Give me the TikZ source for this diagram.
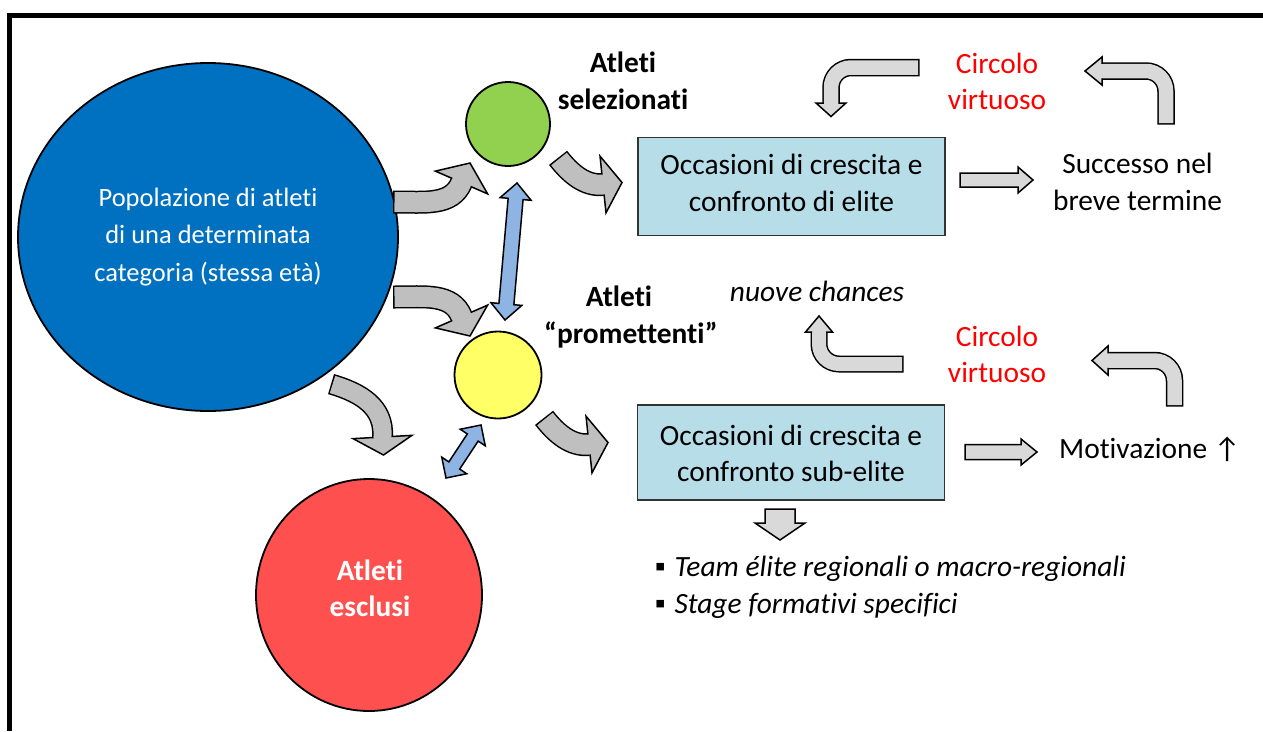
\documentclass[tikz,border=0pt]{standalone}
\usepackage{fontspec}
\setmainfont{Carlito}[Ligatures=NoCommon]
\usetikzlibrary{calc,shapes.geometric}

\definecolor{popblue}{HTML}{0070C0}
\definecolor{selgreen}{HTML}{92D050}
\definecolor{promyellow}{HTML}{FFFF66}
\definecolor{exred}{HTML}{FF5050}
\definecolor{boxblue}{HTML}{B7DEE8}
\definecolor{flowgray}{HTML}{BFBFBF}
\definecolor{loopgray}{HTML}{D9D9D9}
\definecolor{linkblue}{HTML}{8EB4E3}
\definecolor{loopred}{HTML}{FF0000}

% block arrow along a path: black rim, fill stroke, then the head
% #1 fill, #2 shaft width, #3 head half width, #4 tail, #5 point the tail heads to,
% #6 path segments from the tail to the head base, #7 head base, #8 tip
\newcommand{\shaftarrow}[8]{%
  \pgfmathsetmacro{\rimw}{#2+3}%
  \pgfmathsetmacro{\halfw}{#2/2}%
  \draw[black, line width=\rimw pt] ($#4!-1.5pt!#5$) -- #4 #6 #7;
  \draw[#1, line width=#2 pt] #4 #6 #7;
  \coordinate (sbk) at ($#7!-1.2pt!#8$);
  \fill[#1] #8 -- ($#7!#3 pt!90:#8$) -- ($#7!\halfw pt!90:#8$) -- ($(sbk)!\halfw pt!90:#8$)
    -- ($(sbk)!\halfw pt!-90:#8$) -- ($#7!\halfw pt!-90:#8$) -- ($#7!#3 pt!-90:#8$) -- cycle;
  \draw[black, line width=1.5pt, line join=miter]
    ($#7!\halfw pt!90:#8$) -- ($#7!#3 pt!90:#8$) -- #8 -- ($#7!#3 pt!-90:#8$) -- ($#7!\halfw pt!-90:#8$);
}
% straight block arrow as one polygon
% #1 fill, #2 tail, #3 head base, #4 tip, #5 half shaft, #6 half head
\newcommand{\straightarrow}[6]{%
  \filldraw[fill=#1, draw=black, line width=1.5pt, line join=miter]
    ($#2!#5 pt!90:#3$) -- ($#3!#5 pt!-90:#2$) -- ($#3!#6 pt!-90:#2$) -- #4
    -- ($#3!#6 pt!90:#2$) -- ($#3!#5 pt!90:#2$) -- ($#2!#5 pt!-90:#3$) -- cycle;
}
% double-headed block arrow
% #1 end, #2 end, #3 head length, #4 half shaft, #5 half head
\newcommand{\twinarrow}[5]{%
  \coordinate (twA) at ($#1!#3 pt!#2$);
  \coordinate (twB) at ($#2!#3 pt!#1$);
  \filldraw[fill=linkblue, draw=black, line width=1.5pt, line join=miter]
    #1 -- ($(twA)!#5 pt!90:#1$) -- ($(twA)!#4 pt!90:#1$) -- ($(twB)!#4 pt!-90:#2$)
    -- ($(twB)!#5 pt!-90:#2$) -- #2 -- ($(twB)!#5 pt!90:#2$) -- ($(twB)!#4 pt!90:#2$)
    -- ($(twA)!#4 pt!-90:#1$) -- ($(twA)!#5 pt!-90:#1$) -- cycle;
}

\begin{document}
\begin{tikzpicture}[x=1pt,y=-1pt,
  lbl/.style={font=\fontsize{29.4pt}{36.5pt}\selectfont, align=center, inner sep=0pt},
  bold lbl/.style={lbl, font=\fontsize{29.4pt}{36.5pt}\selectfont\bfseries},
  loop lbl/.style={lbl, text=loopred},
  disc/.style={ellipse, draw=black, line width=1.8pt, inner sep=0pt},
  stagebox/.style={rectangle, draw=black!80, fill=boxblue, line width=1.5pt,
    minimum width=307pt, minimum height=98pt, inner sep=0pt}]
\useasboundingbox (0,0) rectangle (1263,731);

% frame
\draw[line width=5pt, line join=miter] (9.5,731) -- (9.5,15.5) -- (1263,15.5);

% groups of athletes
\node[disc, fill=popblue, minimum width=380pt, minimum height=348pt] (pop) at (208,237) {};
\node[lbl, text=white, font=\fontsize{26.5pt}{37.5pt}\selectfont] (popText) at (208,237)
  {Popolazione di atleti\\di una determinata\\categoria (stessa età)};
\node[disc, fill=selgreen, minimum width=84pt, minimum height=84pt] (sel) at (508,124) {};
\node[disc, fill=promyellow, minimum width=87pt, minimum height=87pt] (prom) at (498,375) {};
\node[disc, fill=exred, minimum width=226pt, minimum height=232pt] (excl) at (369,595) {};
\node[bold lbl, text=white] (exclText) at (370,588.5) {Atleti\\esclusi};

\node[bold lbl] (selText) at (623,81) {Atleti\\selezionati};
\node[bold lbl] (promText) at (631,317) {Atleti\kern24pt\\“promettenti”};

% opportunities
\node[stagebox] (elite) at (791.5,186.5) {};
\node[lbl] (eliteText) at (791.5,183) {Occasioni di crescita e\\confronto di elite};
\node[stagebox, minimum height=95pt] (subelite) at (791,452.5) {};
\node[lbl] (subeliteText) at (791,453.5) {Occasioni di crescita e\\confronto sub-elite};

% outcomes
\node[loop lbl] (loopTop) at (997,81.5) {Circolo\\virtuoso};
\node[loop lbl] (loopLow) at (997,354.5) {Circolo\\virtuoso};
\node[lbl] (success) at (1137.5,182) {Successo nel\\breve termine};
\node[lbl, font=\fontsize{29.4pt}{36.5pt}\selectfont\itshape] (chances) at (817,291) {nuove chances};
\node[lbl, anchor=west] (motiv) at (1059,449) {Motivazione ↑};
\node[lbl, align=left, anchor=west] (teams) at (655,587.5)
  {▪\hspace{9pt}\textit{Team élite regionali o macro-regionali}\\▪\hspace{9pt}\textit{Stage formativi specifici}};

% flow arrows between groups
\coordinate (fA0) at (394.5,202); \coordinate (fA1) at (461.5,182.5); \coordinate (fA2) at (470,163);
\coordinate (fB0) at (559,159);   \coordinate (fB1) at (603,184.5);   \coordinate (fB2) at (622,182.5);
\coordinate (fC0) at (394.5,297); \coordinate (fC1) at (461.5,316.5); \coordinate (fC2) at (470,336);
\coordinate (fD0) at (332.5,384.5); \coordinate (fD1) at (382.5,437); \coordinate (fD2) at (383.5,455);
\coordinate (fE0) at (545,419);   \coordinate (fE1) at (589,444.5);   \coordinate (fE2) at (608,442.5);
\shaftarrow{flowgray}{20}{28.5}{(fA0)}{(425,202)}{.. controls (425,202) and (452,206) ..}{(fA1)}{(fA2)}
\shaftarrow{flowgray}{20}{28.5}{(fB0)}{(570,173)}{.. controls (570,173) and (585,186.4) ..}{(fB1)}{(fB2)}
\shaftarrow{flowgray}{20}{28.5}{(fC0)}{(425,297)}{.. controls (425,297) and (452,293) ..}{(fC1)}{(fC2)}
\shaftarrow{flowgray}{18}{29.5}{(fD0)}{(361,393)}{.. controls (361,393) and (384.5,407) ..}{(fD1)}{(fD2)}
\shaftarrow{flowgray}{20}{28.5}{(fE0)}{(556,433)}{.. controls (556,433) and (571,446.4) ..}{(fE1)}{(fE2)}

% links between groups
\coordinate (lA0) at (517,183); \coordinate (lA1) at (505,320);
\coordinate (lB0) at (481,425); \coordinate (lB1) at (446,478);
\twinarrow{(lA0)}{(lA1)}{16}{7.5}{15.5}
\twinarrow{(lB0)}{(lB1)}{15}{6.5}{15}

% virtuous circles
\coordinate (cA0) at (918,67.5);  \coordinate (cA1) at (831,103);    \coordinate (cA2) at (831,116.5);
\coordinate (cB0) at (1166,123);  \coordinate (cB1) at (1102,71);    \coordinate (cB2) at (1085,71);
\coordinate (cC0) at (902,364);   \coordinate (cC1) at (819,332);    \coordinate (cC2) at (819,316);
\coordinate (cD0) at (1174.5,405);\coordinate (cD1) at (1108,360.5); \coordinate (cD2) at (1092,360.5);
\shaftarrow{loopgray}{14.5}{15}{(cA0)}{(831,67.5)}{[rounded corners=20pt] -- (831,67.5) --}{(cA1)}{(cA2)}
\shaftarrow{loopgray}{14.5}{14}{(cB0)}{(1166,71)}{[rounded corners=20pt] -- (1166,71) --}{(cB1)}{(cB2)}
\shaftarrow{loopgray}{14}{13.5}{(cC0)}{(819,364)}{[rounded corners=20pt] -- (819,364) --}{(cC1)}{(cC2)}
\shaftarrow{loopgray}{14.5}{14.5}{(cD0)}{(1174.5,360.5)}{[rounded corners=20pt] -- (1174.5,360.5) --}{(cD1)}{(cD2)}

% results
\coordinate (rA0) at (960,180); \coordinate (rA1) at (1018,180); \coordinate (rA2) at (1033,180);
\coordinate (rB0) at (965,452); \coordinate (rB1) at (1021,452); \coordinate (rB2) at (1037,452);
\coordinate (rC0) at (780,509); \coordinate (rC1) at (780,523);  \coordinate (rC2) at (780,540);
\straightarrow{loopgray}{(rA0)}{(rA1)}{(rA2)}{7}{13}
\straightarrow{loopgray}{(rB0)}{(rB1)}{(rB2)}{7.5}{13}
\straightarrow{loopgray}{(rC0)}{(rC1)}{(rC2)}{15}{25}
\end{tikzpicture}
\end{document}
